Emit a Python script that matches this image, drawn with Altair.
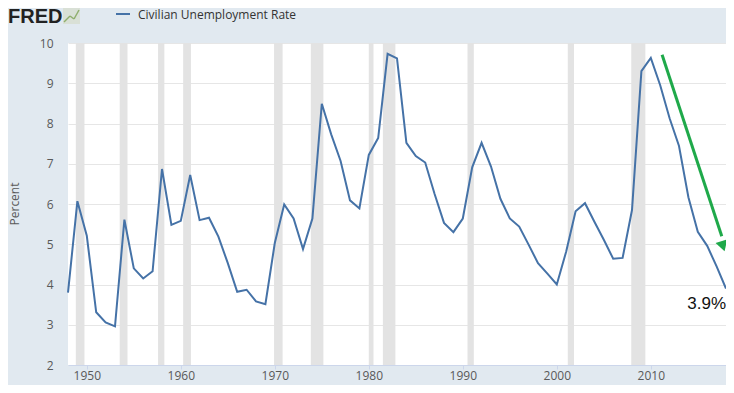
import altair as alt
import pandas as pd

years = list(range(1948, 2019))
unrate = [
    3.80, 6.07, 5.21, 3.31, 3.06, 2.96, 5.61, 4.40, 4.15, 4.33,
    6.87, 5.48, 5.58, 6.72, 5.60, 5.66, 5.19, 4.53, 3.82, 3.87,
    3.58, 3.51, 5.03, 5.99, 5.64, 4.88, 5.64, 8.49, 7.73, 7.07,
    6.09, 5.89, 7.22, 7.64, 9.73, 9.62, 7.52, 7.19, 7.03, 6.25,
    5.53, 5.30, 5.64, 6.91, 7.52, 6.93, 6.13, 5.64, 5.44, 4.99,
    4.53, 4.27, 4.00, 4.82, 5.82, 6.02, 5.56, 5.11, 4.64, 4.66,
    5.85, 9.30, 9.63, 8.95, 8.13, 7.44, 6.17, 5.31, 4.96, 4.45, 3.90,
]
rec_start = [1948.83, 1953.5, 1957.58, 1960.25, 1969.92, 1973.83, 1980.0, 1981.5, 1990.5, 2001.17, 2007.92]
rec_end = [1949.75, 1954.33, 1958.25, 1961.08, 1970.83, 1975.17, 1980.5, 1982.83, 1991.17, 2001.83, 2009.42]
x_ticks = [1950, 1960, 1970, 1980, 1990, 2000, 2010]
y_ticks = [2, 3, 4, 5, 6, 7, 8, 9, 10]

arrow_x = [2011.2, 2017.55]
arrow_y = [9.71, 5.2]
head_x = [2017.68]
head_y = [4.95]
last_label = ["3.9%"]

W, H = 658, 322
BLUE = "#4572a7"
GREEN = "#1fa94a"

df = pd.DataFrame({"year": years, "rate": unrate})
rec = pd.DataFrame({"start": rec_start, "end": rec_end})

xs = alt.Scale(domain=[1948, 2018], nice=False, zero=False)
ys = alt.Scale(domain=[2, 10], nice=False, zero=False)

xaxis = alt.Axis(values=x_ticks, format="d", title=None, grid=False,
                 domainColor="#ccd6eb", tickColor="#ccd6eb", tickSize=4,
                 labelPadding=1, labelFont="Open Sans", labelFontSize=12,
                 labelColor="#595959")
yaxis = alt.Axis(values=y_ticks, title=None, grid=True, gridColor="#e6e6e6",
                 domain=False, ticks=False, labelPadding=15, labelFont="Open Sans",
                 labelFontSize=12, labelColor="#595959")

shade = alt.Chart(rec).mark_rect(color="#e3e3e3").encode(
    x=alt.X("start:Q", scale=xs, axis=xaxis),
    x2="end:Q",
    y=alt.value(0), y2=alt.value(H),
)

line = alt.Chart(df).mark_line(color=BLUE, strokeWidth=2).encode(
    x=alt.X("year:Q", scale=xs, axis=xaxis),
    y=alt.Y("rate:Q", scale=ys, axis=yaxis),
)

arrow_df = pd.DataFrame({"x": [arrow_x[0]], "y": [arrow_y[0]], "x2": [arrow_x[1]], "y2": [arrow_y[1]]})
arrow = alt.Chart(arrow_df).mark_rule(color=GREEN, strokeWidth=3).encode(
    x=alt.X("x:Q", scale=xs), y=alt.Y("y:Q", scale=ys), x2="x2:Q", y2="y2:Q"
)
head = alt.Chart(pd.DataFrame({"x": head_x, "y": head_y})).mark_point(
    shape="triangle-down", angle=342.5, size=150, filled=True, color=GREEN, opacity=1
).encode(x=alt.X("x:Q", scale=xs), y=alt.Y("y:Q", scale=ys))

lab = alt.Chart(pd.DataFrame({"x": [years[-1]], "y": [unrate[-1]], "t": last_label})).mark_text(
    align="right", baseline="middle", dy=15, fontSize=17, font="Liberation Sans", color="#111"
).encode(x=alt.X("x:Q", scale=xs), y=alt.Y("y:Q", scale=ys), text="t:N")

one = pd.DataFrame({"a": [0]})
ytitle = alt.Chart(one).mark_text(angle=270, fontSize=12, font="Open Sans", color="#595959",
                                  baseline="middle", align="center").encode(
    x=alt.value(-53), y=alt.value(H / 2), text=alt.value("Percent"))

fred = alt.Chart(one).mark_text(align="left", baseline="alphabetic", fontSize=20,
                                font="Liberation Sans", fontWeight="bold", color="#222").encode(
    x=alt.value(-60), y=alt.value(-20), text=alt.value("FRED"))

icon_bg = alt.Chart(one).mark_rect(color="#d9e0d6").encode(
    x=alt.value(-5), x2=alt.value(12), y=alt.value(-35), y2=alt.value(-19))
icon1 = alt.Chart(one).mark_rule(color="#8fae6c", strokeWidth=1.5).encode(
    x=alt.value(-4), y=alt.value(-21), x2=alt.value(2), y2=alt.value(-27))
icon2 = alt.Chart(one).mark_rule(color="#8fae6c", strokeWidth=1.5).encode(
    x=alt.value(2), y=alt.value(-27), x2=alt.value(6), y2=alt.value(-24))
icon3 = alt.Chart(one).mark_rule(color="#8fae6c", strokeWidth=1.5).encode(
    x=alt.value(6), y=alt.value(-24), x2=alt.value(11), y2=alt.value(-33))

leg_line = alt.Chart(one).mark_rule(color=BLUE, strokeWidth=2).encode(
    x=alt.value(48), x2=alt.value(62), y=alt.value(-29))
leg_text = alt.Chart(one).mark_text(align="left", baseline="middle", fontSize=12,
                                    font="Open Sans", color="#333").encode(
    x=alt.value(70), y=alt.value(-28), text=alt.value("Civilian Unemployment Rate"))

chart = alt.layer(
    shade, line, arrow, head, lab, ytitle, fred, icon_bg, icon1, icon2, icon3, leg_line, leg_text
).properties(
    width=W, height=H,
    autosize=alt.AutoSizeParams(type="none"),
    padding={"left": 60, "top": 35, "right": 0, "bottom": 20},
    background="#e1e9f0",
).configure_view(stroke=None, fill="white")

chart.save("out.html", embed_options={"renderer": "svg", "actions": False})
